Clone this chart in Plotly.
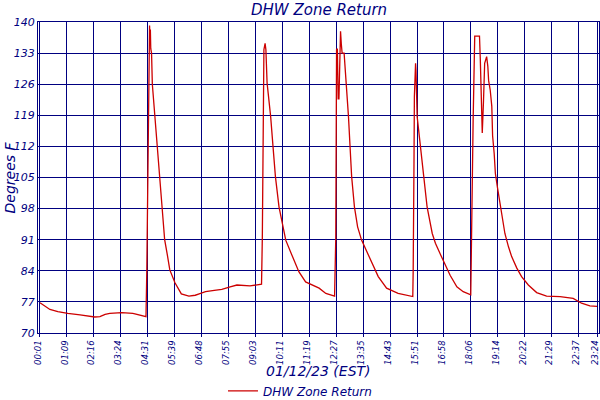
import plotly.graph_objects as go

# ── data (minutes since midnight, °F) ────────────────────────────────────
minutes = [
    1, 11, 26, 46, 71, 102, 139, 152, 165, 177, 207, 235, 253, 268,
    270, 272, 274, 276, 277, 278, 279, 280, 282, 284, 290, 296, 302, 309,
    315, 321, 328, 341, 357, 376, 392, 402, 418, 440, 459, 480, 497, 530, 559,
    561, 563, 565, 568, 570, 573, 582, 588, 594, 603, 610, 620, 637, 653,
    670, 704, 721, 743,
    746, 747, 748, 750, 752, 754, 756, 758, 760, 762, 767, 773, 778, 782,
    786, 793, 801, 811, 824, 836, 853, 874, 903, 940,
    941, 943, 944, 947, 948, 951, 959, 968, 976, 989, 997, 1010, 1027,
    1034, 1051, 1067, 1086,
    1087, 1089, 1092, 1096, 1108, 1110, 1113, 1115, 1118, 1121, 1126, 1129,
    1131, 1135, 1139, 1141, 1145, 1148, 1153, 1158, 1164, 1172, 1181, 1189,
    1202, 1214, 1231, 1252, 1277, 1311, 1344, 1365, 1386, 1404,
]
temps = [
    76.8, 76.2, 75.3, 74.8, 74.4, 74.1, 73.6, 73.7, 74.2, 74.4, 74.6, 74.4, 74.0, 73.7,
    83.8, 102.9, 120.5, 136.0, 139.2, 136.5, 138.3, 134.0, 133.0, 126.0, 119.0, 112.0, 105.0, 98.0,
    91.0, 88.0, 84.2, 81.3, 78.8, 78.3, 78.5, 78.8, 79.3, 79.6, 79.8, 80.4, 80.8, 80.6, 81.0,
    91.3, 116.0, 133.8, 135.2, 133.8, 126.3, 118.7, 111.9, 105.2, 98.4, 95.5, 90.9, 87.2, 83.8,
    81.5, 80.1, 78.9, 78.3,
    91.3, 118.7, 133.8, 134.0, 122.7, 122.7, 134.5, 137.9, 135.0, 133.0, 133.0, 126.2, 118.7, 111.9,
    105.2, 98.4, 93.9, 90.9, 88.3, 85.7, 82.7, 80.1, 78.9, 78.2,
    84.2, 108.2, 123.2, 130.7, 129.2, 118.7, 111.9, 105.2, 98.4, 92.4, 90.2, 87.6, 84.6,
    83.0, 80.4, 79.3, 78.6,
    87.2, 103.7, 117.9, 136.8, 136.8, 131.7, 122.0, 115.0, 122.0, 130.7, 132.2, 130.0,
    126.8, 124.7, 121.0, 114.4, 110.4, 105.9, 102.9, 99.9, 96.2, 92.4, 89.4, 87.2,
    84.6, 82.7, 80.8, 79.1, 78.3, 78.2, 77.8, 76.7, 76.1, 76.0,
]

tick_labels = [
    "00:01", "01:09", "02:16", "03:24", "04:31", "05:39", "06:48", "07:55",
    "09:03", "10:11", "11:19", "12:27", "13:35", "14:43", "15:51", "16:58",
    "18:06", "19:14", "20:22", "21:29", "22:37", "23:24",
]
y_ticks = [70, 77, 84, 91, 98, 105, 112, 119, 126, 133, 140]

NAVY = "#000080"
RED = "#cc0000"


def _to_min(lbl: str) -> int:
    h, m = lbl.split(":")
    return int(h) * 60 + int(m)


tick_vals = [_to_min(t) for t in tick_labels]
font = dict(family="DejaVu Sans", color=NAVY, style="italic")

fig = go.Figure()
fig.add_trace(go.Scatter(
    x=minutes, y=temps, mode="lines", name="DHW Zone Return",
    line=dict(color=RED, width=1.3),
))


def _label(text, x, y, size, angle=0):
    return dict(text=text, xref="paper", yref="paper", x=x, y=y, textangle=angle,
                xanchor="center", yanchor="middle", showarrow=False,
                font=dict(**font, size=size))


fig.update_layout(
    width=600, height=400,
    paper_bgcolor="white", plot_bgcolor="white",
    margin=dict(l=38, r=1, t=22, b=67, autoexpand=False),
    font=dict(**font, size=11),
    showlegend=True,
    legend=dict(orientation="h", x=0.467, xref="paper", xanchor="center",
                y=-0.186, yref="paper", yanchor="middle", itemwidth=30,
                font=dict(**font, size=12)),
    xaxis=dict(
        range=[-4, 1409], tickmode="array", tickvals=tick_vals, ticktext=tick_labels,
        tickangle=-90, tickfont=dict(**font, size=8.5), automargin=False,
        ticklabeloverflow="allow", ticklabelshift=-2,
        showgrid=True, gridcolor=NAVY, gridwidth=1,
        showline=True, linecolor=NAVY, linewidth=1, mirror=True,
        ticks="outside", ticklen=3, tickcolor=NAVY,
        zeroline=False,
    ),
    yaxis=dict(
        range=[70, 140], tickmode="array", tickvals=y_ticks,
        tickfont=dict(**font, size=11), automargin=False,
        showgrid=True, gridcolor=NAVY, gridwidth=1,
        showline=True, linecolor=NAVY, linewidth=1, mirror=True,
        zeroline=False, ticks="",
    ),
    annotations=[
        _label("DHW Zone Return", 0.5, 1.0386, 15),
        _label("01/12/23 (EST)", 0.5, -0.123, 14),
        _label("Degrees F", -0.05, 0.5, 14, angle=-90),
    ],
)

# drop the page's default 8px body margin so the chart sits at the window corner
fig.write_html("out.html", config={"displayModeBar": False},
               post_script="document.body.style.margin='0';")
